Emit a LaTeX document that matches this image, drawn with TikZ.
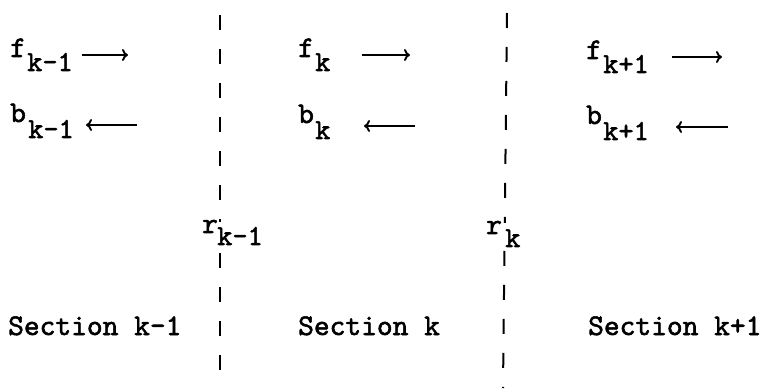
\documentclass[tikz,border=0pt]{standalone}
\usepackage{fontspec}
\setmainfont{lmmono10-regular.otf}[FakeBold=1.8]
\usetikzlibrary{arrows.meta,backgrounds}
\begin{document}
\begin{tikzpicture}[x=1pt,y=-1pt,
  lbl/.style={anchor=base west,inner sep=0pt,font=\fontsize{30}{32}\selectfont},
  subl/.style={anchor=base west,inner sep=0pt,font=\fontsize{29}{31}\selectfont},
  arr/.style={line width=1.9pt,-{Computer Modern Rightarrow[length=6pt,width=12pt]}},
  sepline/.style={line width=2pt,dash pattern=on 15pt off 19pt}]
\useasboundingbox (0,0) rectangle (761,390);
% r labels
\node[lbl] (r1) at (202,233) {r};
\node[subl] (r1s) at (217,245) {k-1};
\node[lbl] (r2) at (486,234) {r};
\node[subl] (r2s) at (505,247) {k};
% separators
\coordinate (s1t) at (220,15); \coordinate (s1b) at (220,372);
\coordinate (s2t) at (507,13); \coordinate (s2b) at (503,388);
\begin{pgfonlayer}{background}
\draw[sepline] (s1t) -- (s1b);
\draw[sepline] (s2t) -- (s2b);
\fill[white] ([shift={(-1pt,-2pt)}]r1.north west) rectangle ([shift={(1pt,-3pt)}]r1s.south east);
\fill[white] ([shift={(-1pt,-2pt)}]r2.north west) rectangle ([shift={(1pt,-3pt)}]r2s.south east);
\end{pgfonlayer}
% section k-1
\node[lbl] (f1) at (10,57) {f};
\node[subl] (f1s) at (27,71) {k-1};
\coordinate (f1a) at (82,55); \coordinate (f1b) at (128,55);
\draw[arr] (f1a) -- (f1b);
\node[lbl] (b1) at (10,122) {b};
\node[subl] (b1s) at (28,138) {k-1};
\coordinate (b1a) at (137,125); \coordinate (b1b) at (86,125);
\draw[arr] (b1a) -- (b1b);
% section k
\node[lbl] (f2) at (298,57) {f};
\node[subl] (f2s) at (315,71) {k};
\coordinate (f2a) at (362,55); \coordinate (f2b) at (410,55);
\draw[arr] (f2a) -- (f2b);
\node[lbl] (b2) at (298,123) {b};
\node[subl] (b2s) at (315,139) {k};
\coordinate (b2a) at (415,126); \coordinate (b2b) at (364,126);
\draw[arr] (b2a) -- (b2b);
% section k+1
\node[lbl] (f3) at (586,59) {f};
\node[subl] (f3s) at (603,73) {k+1};
\coordinate (f3a) at (672,57); \coordinate (f3b) at (722,57);
\draw[arr] (f3a) -- (f3b);
\node[lbl] (b3) at (586,124) {b};
\node[subl] (b3s) at (603,140) {k+1};
\coordinate (b3a) at (728,127); \coordinate (b3b) at (676,127);
\draw[arr] (b3a) -- (b3b);
% section names
\node[lbl] (sec1) at (8,335) {Section k-1};
\node[lbl] (sec2) at (298,335) {Section k};
\node[lbl] (sec3) at (588,335) {Section k+1};
\end{tikzpicture}
\end{document}
